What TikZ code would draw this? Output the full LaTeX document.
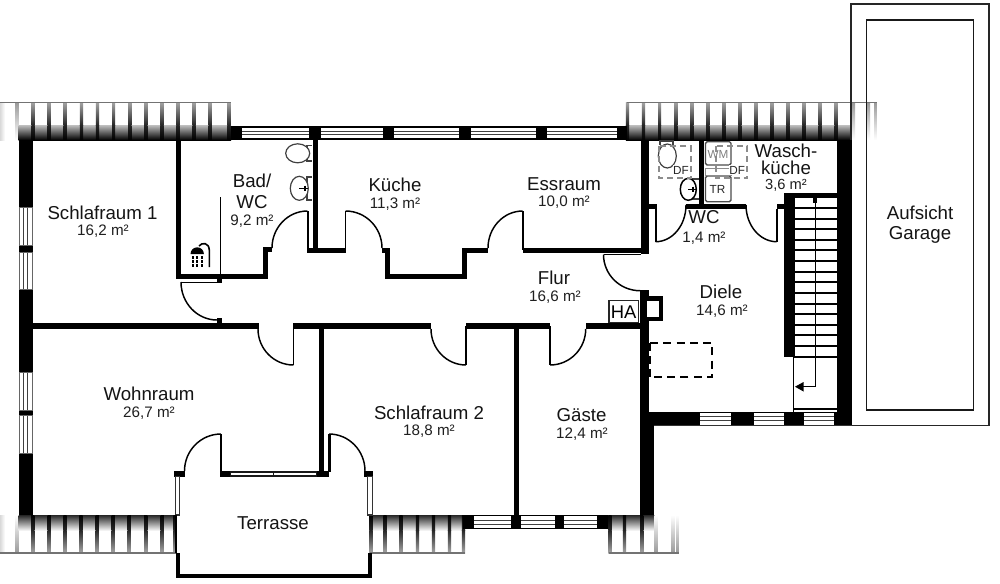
\documentclass[tikz,border=0pt]{standalone}
\usepackage{fontspec}
\setmainfont{Liberation Sans}
\usetikzlibrary{calc,arrows.meta}
\tikzset{
  wallfill/.style={fill=black,draw=none},
  doorline/.style={draw=black,line width=1.1pt},
  leafline/.style={draw=black,line width=1.3pt},
  thinline/.style={draw=black,line width=0.75pt},
  winbar/.style={fill=white,draw=none},
  winline/.style={draw=black!75,line width=0.7pt},
  roofline/.style={draw=black!55,line width=0.8pt},
  sanit/.style={draw=black!75,line width=0.9pt,fill=white},
  appl/.style={draw=black!70,line width=1pt,rounded corners=1.2pt,fill=white},
  dfbox/.style={draw=black!45,line width=1.3pt,dash pattern=on 4.5pt off 3pt},
  roomname/.style={inner sep=0pt,font=\fontsize{14}{15}\selectfont,text=black!92},
  roomarea/.style={inner sep=0pt,font=\fontsize{11.4}{13}\selectfont,text=black!88},
  smalltxt/.style={inner sep=0pt,font=\fontsize{8.8}{10}\selectfont},
}
\newcommand\wl[4]{\fill[wallfill] (#1,#2) rectangle (#3,#4);}
\newcommand\doorarc[6]{\draw[doorline] (#1,#2) .. controls ($(#1,#2)!0.552!(#3,#4)$) and ($(#5,#6)!0.552!(#3,#4)$) .. (#5,#6);}
\newcommand\winh[4]{\fill[winbar] (#1,#3) rectangle (#2,#4);
  \draw[winline] (#1,{#3+(#4-#3)/3}) -- (#2,{#3+(#4-#3)/3});
  \draw[winline] (#1,{#3+2*(#4-#3)/3}) -- (#2,{#3+2*(#4-#3)/3});}
\newcommand\winv[4]{\fill[winbar] (#1,#3) rectangle (#2,#4);
  \draw[winline] ({#1+(#2-#1)/3},#3) -- ({#1+(#2-#1)/3},#4);
  \draw[winline] ({#1+2*(#2-#1)/3},#3) -- ({#1+2*(#2-#1)/3},#4);
  \draw[black!60,line width=0.4pt] (#1,#3) rectangle (#2,#4);}
\newcommand\ratop[1]{\shade[top color=black!35,bottom color=black!85] ({#1-1.6},102) rectangle ({#1+1.6},125);
  \shade[top color=black!85,bottom color=black] ({#1-1.6},125) rectangle ({#1+1.6},140);}
\newcommand\rabot[1]{\shade[top color=black!85,bottom color=black!35] ({#1-1.6},530) rectangle ({#1+1.6},553);
  \shade[top color=black,bottom color=black!85] ({#1-1.6},515) rectangle ({#1+1.6},530);}
\begin{document}
\begin{tikzpicture}[x=0.75pt,y=-0.75pt]
\useasboundingbox (0,0) rectangle (1000,583);
\fill[white] (0,0) rectangle (1000,583);

% ---- roof top left
\shade[left color=black!15,right color=white] (0,102) rectangle (5,140);
\shade[top color=black!40,bottom color=white] (15.3,102) rectangle (18.7,140);
\shade[top color=black!25,bottom color=black] (18.5,125) rectangle (231,140);
\foreach \i in {1,...,12} {\ratop{17+16.1*\i}}
\ratop{229}
\draw[roofline] (0,102.3) -- (231,102.3);

% ---- roof top right
\shade[top color=black!25,bottom color=black] (627,125) rectangle (852,140);
\foreach \i in {0,...,13} {\ratop{627.5+16.05*\i}}
\shade[top color=black!40,bottom color=white] (851,102) rectangle (855,140);
\shade[top color=black!40,bottom color=white] (866.5,102) rectangle (870,140);
\shade[top color=black!40,bottom color=white] (874.5,102) rectangle (876.5,140);
\draw[roofline] (627,102.3) -- (876.5,102.3);

% ---- roof bottom
\shade[left color=black!15,right color=white] (0,515) rectangle (5,553);
\shade[top color=white,bottom color=black!40] (15,515) rectangle (18.5,553);
\shade[top color=black!85,bottom color=black!5] (18.5,515) rectangle (176,530);
\foreach \x in {32.7,49.3,65,81,97.3,113.3,129.3,145.7,162.3,175} {\rabot{\x}}
\draw[roofline] (0,553) -- (176,553);
\shade[top color=black!85,bottom color=black!5] (370,515) rectangle (465,530);
\foreach \x in {371,385,401,417.5,433.5,449.5,463.5} {\rabot{\x}}
\draw[roofline] (370,553) -- (465,553);
\shade[top color=black!85,bottom color=black!5] (608,515) rectangle (655,530);
\foreach \x in {610,624.5,641.7} {\rabot{\x}}
\shade[top color=white,bottom color=black!40] (654.3,515) rectangle (657.8,553);
\shade[top color=white,bottom color=black!40] (671,515) rectangle (674.5,553);
\shade[top color=white,bottom color=black!40] (676.5,515) rectangle (678.5,553);
\draw[roofline] (608.5,553) -- (678.5,553);

% ---- garage
\draw[black!85,line width=1.1pt] (851,4) rectangle (989,425.5);
\draw[black!90,line width=1.1pt] (866.7,20) rectangle (973.5,410);

% ---- outer walls
\wl{18.5}{140}{33}{515}
\wl{231}{126}{627}{140}
\wl{463}{515}{608}{529.3}
\wl{640}{412}{654}{515}
\wl{837}{140}{852}{425}
\wl{649}{412}{852}{425}
\draw[black!80,line width=0.7pt] (654,425.6) -- (852,425.6);

% ---- inner walls
\wl{176}{140}{180.5}{278.5}
\wl{176}{273.5}{268}{278.5}
\wl{263}{247}{268}{278}
\wl{263}{247}{272}{252}
\wl{217}{278}{222}{283}
\wl{217}{318}{222}{324}
\wl{33}{323.3}{259}{329}
\wl{293}{323.3}{431}{329}
\wl{466}{323.3}{550}{329}
\wl{585.7}{323.3}{640}{329}
\wl{312.7}{140}{317.7}{252.5}
\wl{307}{247.5}{346}{252.5}
\wl{382}{247.5}{390}{252.5}
\wl{385}{247.5}{390}{278.5}
\wl{385}{273.5}{467}{278.5}
\wl{462}{247.5}{467}{278.5}
\wl{462}{247.5}{488}{252.5}
\wl{522.7}{247.5}{649}{252.5}
\wl{640.7}{140}{649.3}{254}
\wl{640}{290}{649.3}{412}
\wl{319}{329}{324.3}{476}
\wl{513.7}{329}{519.2}{528}
% WC / Waschkueche
\wl{649}{204.3}{656.7}{209.3}
\wl{686}{204.3}{746}{209.3}
\wl{776.7}{204.3}{784}{209.3}
\wl{699}{140}{704.3}{205}
% terrace
\wl{174}{470.7}{185}{476.7}
\wl{220}{471}{231}{476.5}
\wl{316}{471}{329}{476.5}
\wl{364}{470.7}{373}{476.7}
\wl{176}{553}{180}{577.7}
\wl{368}{553}{371.5}{577.7}
\wl{176}{574}{371.5}{577.7}
\draw[black!80,line width=0.9pt] (175.5,476.7) rectangle (179.5,515);
\draw[black!80,line width=0.9pt] (367.7,476.7) rectangle (372.7,515);
\draw[black!90,line width=0.8pt] (230.7,472) rectangle (316.7,476);
\draw[black!90,line width=0.7pt] (273,472) -- (273,476);
\draw[black,line width=1pt] (176,515) -- (176,553);

% ---- windows
\winh{242}{309}{127.5}{138}
\winh{321}{383}{127.5}{138}
\winh{394}{459}{127.5}{138}
\winh{471}{536}{127.5}{138}
\winh{547}{617}{127.5}{138}
\winv{19}{32}{207}{245}
\winv{19}{32}{252}{289}
\winv{19}{32}{372}{410}
\winv{19}{32}{415}{453}
\winh{474}{510.7}{516}{528.3}
\winh{521}{555}{516}{528.3}
\winh{563.7}{597}{516}{528.3}
\winh{700}{730.7}{412.7}{424.7}
\winh{754}{784}{412.7}{424.7}
\winh{804}{834}{412.7}{424.7}

% ---- doors
\doorarc{272}{248}{272}{211}{307.5}{211}
\draw[leafline] (307.8,211) -- (307.8,250);
\doorarc{345.5}{211}{382}{211}{382}{248}
\draw[leafline] (345.5,211) -- (345.5,250);
\doorarc{488}{248}{488}{211}{522.7}{211}
\draw[leafline] (522.7,211) -- (522.7,250);
\doorarc{181}{282}{181}{320}{217}{320}
\draw[thinline] (181,282) -- (217,282);
\doorarc{258}{329}{258}{365}{293.5}{365}
\draw[leafline] (293.5,326) -- (293.5,365);
\doorarc{431}{329}{431}{365}{466}{365}
\draw[leafline] (466,326) -- (466,365);
\doorarc{585.7}{329}{585.7}{365}{550}{365}
\draw[leafline] (550,326) -- (550,365);
\doorarc{603.5}{254.5}{603.5}{290.7}{640}{290.7}
\draw[thinline] (603.5,254.5) -- (641,254.5);
\doorarc{686}{205}{686}{241.7}{655.7}{241.7}
\draw[leafline] (655.7,209) -- (655.7,241.7);
\doorarc{746}{205}{746}{241.7}{776.7}{241.7}
\draw[leafline] (776.7,209) -- (776.7,241.7);
\doorarc{184.5}{471}{184.5}{434}{221}{434}
\draw[draw=black,line width=1.9pt] (221,434) -- (221,472);
\doorarc{329}{434}{365}{434}{365}{471}
\draw[draw=black,line width=1.9pt] (329.3,434) -- (329.3,472);

% ---- shower
\draw[black,line width=0.9pt] (220.6,197) -- (220.6,273.5);
\fill[black] (190.5,254) arc[start angle=180,end angle=360,radius=6.7] -- cycle;
\draw[black,line width=1.2pt] (199,246) .. controls (202,242) and (209,242.5) .. (209.3,250) -- (209.3,267);
\foreach \x in {192.7,197.3,202.3} \foreach \y in {257.5,261.5,265.5} {\fill[black] (\x-1.1,\y-1.1) rectangle (\x+1.1,\y+1.1);}

% ---- Bad sanitary
\draw[sanit] (311.5,145.5) -- (307,145.5) -- (307,161) -- (311.5,161);
\draw[sanit] (297.7,153.3) ellipse [x radius=12,y radius=9.5];
\draw[sanit] (311.5,177) -- (307,177) -- (307,200) -- (311.5,200);
\draw[sanit] (299.3,188.3) ellipse [x radius=9,y radius=12];
\draw[black,line width=0.8pt] (299.3,188.3) -- (308,188.3);
\draw[black,line width=0.8pt] (305,185.5) -- (305,191);

% ---- WC sanitary
\draw[sanit] (660,145) -- (660,141) -- (673,141) -- (673,145);
\draw[sanit] (667.3,156) ellipse [x radius=9,y radius=12];
\draw[sanit] (698.5,179) -- (693,179) -- (693,199) -- (698.5,199);
\fill[white] (688.3,189.3) ellipse [x radius=8,y radius=11];
\draw[black,line width=1.1pt] (688.3,189.3) ellipse [x radius=8,y radius=11];
\draw[black,line width=0.8pt] (688.3,189.3) -- (696,189.3);
\draw[black,line width=0.8pt] (693,186.5) -- (693,192);

% ---- appliances
\draw[appl] (705.5,141.7) rectangle (731,165);
\draw[appl] (705.5,176) rectangle (731,201.7);
\draw[black!45,line width=0.7pt] (705.5,168) rectangle (731,175);
\draw[dfbox] (659,146) rectangle (690.7,178);
\draw[dfbox] (715.7,146) rectangle (747.3,178);
\node[smalltxt,text=black!50] (wm) at (718,154) {WM};
\node[smalltxt,text=black!85] (tr) at (717.5,189) {TR};
\node[smalltxt,text=black!85,fill=white,inner sep=0.5pt] (df1) at (681,170) {DF};
\node[smalltxt,text=black!85,fill=white,inner sep=0.5pt] (df2) at (737.3,170) {DF};

% ---- stairs
\wl{784}{193}{837}{198}
\wl{784}{193}{794.5}{356.7}
\wl{813}{198}{817}{203}
\foreach \i in {0,...,14} {\draw[black,line width=1.5pt] (794,{208+10.62*\i}) -- (837,{208+10.62*\i});}
\draw[black,line width=1.1pt] (815.3,200) -- (815.3,386.7) -- (798,386.7);
\fill[black] (795,386.7) -- (803.5,382) -- (803.5,391.5) -- cycle;
\draw[black,line width=1pt] (793.8,356) -- (793.8,412);
\draw[black,line width=0.8pt] (794,409) -- (837,409);

% ---- HA and chimney
\wl{640}{296}{663}{321}
\fill[white] (647,301) rectangle (659,317);
\draw[black!85,fill=white,line width=1pt] (609,300.5) rectangle (638.3,322.5);
\node[inner sep=0pt,font=\fontsize{13.8}{15}\selectfont] (ha) at (623.7,311.8) {HA};

% ---- Diele dashed
\draw[black,line width=1.5pt,dash pattern=on 6pt off 4pt] (650,342.7) -- (712,342.7) -- (712,377) -- (650,377);
\draw[black,line width=1.5pt,dash pattern=on 6pt off 4pt] (650,342.7) -- (650,377);

% ---- labels
\node[roomname] (n1) at (102.5,213) {Schlafraum 1};
\node[roomarea] (a1) at (103,231.5) {16,2 m²};
\node[roomname] (n2a) at (252,181) {Bad/};
\node[roomname] (n2b) at (252,202) {WC};
\node[roomarea] (a2) at (252,221) {9,2 m²};
\node[roomname] (n3) at (395,185) {Küche};
\node[roomarea] (a3) at (395,204) {11,3 m²};
\node[roomname] (n4) at (564,184) {Essraum};
\node[roomarea] (a4) at (564,202) {10,0 m²};
\node[roomname,align=center,font=\fontsize{14}{12.4}\selectfont] (n5) at (786,159.5) {Wasch-\\küche};
\node[roomarea,font=\fontsize{11}{12}\selectfont] (a5) at (786,185) {3,6 m²};
\node[roomname] (n6) at (704,217) {WC};
\node[roomarea] (a6) at (704,238) {1,4 m²};
\node[roomname] (n7) at (554,278) {Flur};
\node[roomarea] (a7) at (555,297) {16,6 m²};
\node[roomname] (n8) at (721,292) {Diele};
\node[roomarea] (a8) at (722,311) {14,6 m²};
\node[roomname] (n9) at (149,394) {Wohnraum};
\node[roomarea] (a9) at (149,413) {26,7 m²};
\node[roomname] (n10) at (429,413) {Schlafraum 2};
\node[roomarea] (a10) at (429,431.5) {18,8 m²};
\node[roomname] (n11) at (581.5,415) {Gäste};
\node[roomarea] (a11) at (582,434) {12,4 m²};
\node[roomname] (n12) at (273,523) {Terrasse};
\node[roomname] (n13a) at (920,213) {Aufsicht};
\node[roomname] (n13b) at (920,235) {Garage};
\end{tikzpicture}
\end{document}
